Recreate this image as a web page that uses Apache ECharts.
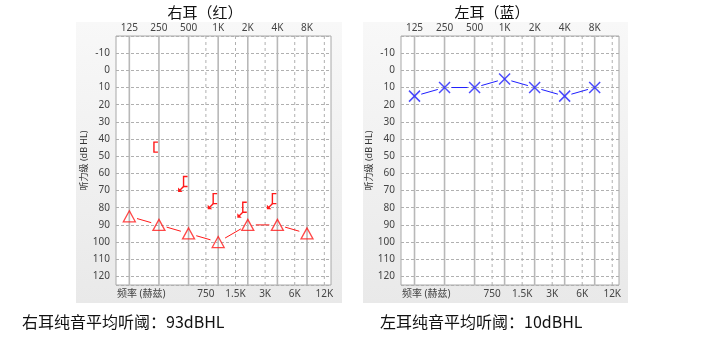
<!DOCTYPE html>
<html><head><meta charset="utf-8">
<script src="https://cdn.jsdelivr.net/npm/echarts@6/dist/echarts.min.js"></script>
<style>html,body{margin:0;padding:0;background:#fff}#c{width:713px;height:342px}</style>
</head><body><div id="c"></div>
<script>
// ---- data ----
const octFreqs = [125, 250, 500, 1000, 2000, 4000, 8000];
const octLabels = ['125', '250', '500', '1K', '2K', '4K', '8K'];
const midFreqs = [750, 1500, 3000, 6000, 12000];
const midLabels = ['750', '1.5K', '3K', '6K', '12K'];
const rightAirFreqs = [125, 250, 500, 1000, 2000, 4000, 8000];
const rightAir = [85, 90, 95, 100, 90, 90, 95];
const rightBoneFreqs = [250, 500, 1000, 2000, 4000];
const rightBone = [45, 65, 75, 80, 75];
const rightBoneNoResp = [0, 1, 1, 1, 1];
const leftAirFreqs = [125, 250, 500, 1000, 2000, 4000, 8000];
const leftAir = [15, 10, 10, 5, 10, 15, 10];
const titles = ['右耳（红）', '左耳（蓝）'];
const footers = ['右耳纯音平均听阈：93dBHL', '左耳纯音平均听阈：10dBHL'];
const yName = '听力级 (dB HL)';
const xName = '频率 (赫兹)';

const FONT = '"Noto Sans", "Noto Sans CJK SC", sans-serif';
const RED = '#ff1a1a', BLUE = '#1f1fff';
const lx = f => Math.log2(f / 125);
const XMIN = -0.45, XMAX = 6.81, YMIN = -20, YMAX = 125;

const chart = echarts.init(document.getElementById('c'));

function gridSeries(gi) {
  const data = [];
  octFreqs.forEach((f, i) => data.push([lx(f), 0, i]));
  midFreqs.forEach((f, i) => data.push([lx(f), 1, i]));
  data.push([XMIN, 2, 0]);
  return {
    type: 'custom', xAxisIndex: gi, yAxisIndex: gi, z: 1, silent: true,
    clip: false,
    encode: { x: 0, y: 1 },
    data: data,
    renderItem: function (params, api) {
      const x = api.value(0), kind = api.value(1), idx = api.value(2);
      const top = api.coord([x, YMIN]), bot = api.coord([x, YMAX]);
      if (kind === 2) {
        return { type: 'text', style: { text: xName, x: top[0] + 1, y: bot[1] + 9, textAlign: 'left', textVerticalAlign: 'middle', font: '10px ' + FONT, fill: '#444' } };
      }
      if (kind === 0) {
        return { type: 'group', children: [
          { type: 'line', shape: { x1: top[0], y1: top[1], x2: bot[0], y2: bot[1] }, style: { stroke: '#b8b8b8', lineWidth: 1.6 } },
          { type: 'text', style: { text: octLabels[idx], x: top[0], y: top[1] - 8, textAlign: 'center', textVerticalAlign: 'middle', font: '10px ' + FONT, fill: '#444' } }
        ] };
      }
      return { type: 'group', children: [
        { type: 'line', shape: { x1: top[0], y1: top[1], x2: bot[0], y2: bot[1] }, style: { stroke: '#b0b0b0', lineWidth: 1, lineDash: [3, 3] } },
        { type: 'text', style: { text: midLabels[idx], x: top[0], y: bot[1] + 9, textAlign: 'center', textVerticalAlign: 'middle', font: '10px ' + FONT, fill: '#444' } }
      ] };
    }
  };
}

function segSeries(gi, freqs, vals, color, gap) {
  const data = [];
  for (let i = 0; i < freqs.length - 1; i++) data.push([lx(freqs[i]), vals[i], lx(freqs[i + 1]), vals[i + 1]]);
  return {
    type: 'custom', xAxisIndex: gi, yAxisIndex: gi, z: 3, silent: true,
    encode: { x: [0, 2], y: [1, 3] },
    data: data,
    renderItem: function (params, api) {
      const p1 = api.coord([api.value(0), api.value(1)]);
      const p2 = api.coord([api.value(2), api.value(3)]);
      const dx = p2[0] - p1[0], dy = p2[1] - p1[1];
      const L = Math.sqrt(dx * dx + dy * dy), ux = dx / L, uy = dy / L;
      return { type: 'line', shape: { x1: p1[0] + ux * gap, y1: p1[1] + uy * gap, x2: p2[0] - ux * gap, y2: p2[1] - uy * gap }, style: { stroke: color, lineWidth: 1 } };
    }
  };
}

function boneSeries(gi) {
  return {
    type: 'custom', xAxisIndex: gi, yAxisIndex: gi, z: 4, silent: true,
    encode: { x: 0, y: 1 },
    data: rightBoneFreqs.map((f, i) => [lx(f), rightBone[i], rightBoneNoResp[i]]),
    renderItem: function (params, api) {
      const p = api.coord([api.value(0), api.value(1)]);
      const nr = api.value(2);
      const bx = p[0] - 5, x2 = p[0] - 1, t = p[1] - 5.5, b = p[1] + 4.5;
      const ch = [{ type: 'polyline', shape: { points: [[x2, t], [bx, t], [bx, b], [x2, b]] }, style: { stroke: RED, lineWidth: 1.4, fill: null } }];
      if (nr) {
        ch.push({ type: 'line', shape: { x1: bx, y1: b, x2: bx - 4, y2: b + 4 }, style: { stroke: RED, lineWidth: 1.4 } });
        ch.push({ type: 'polygon', shape: { points: [[bx - 5.5, b + 5.5], [bx - 5.5, b + 1], [bx - 1, b + 5.5]] }, style: { fill: RED } });
      }
      return { type: 'group', children: ch };
    }
  };
}

const grids = [
  { left: 116, top: 36, width: 215, height: 249 },
  { left: 401, top: 36, width: 218, height: 249 }
];

const xAxes = grids.map((g, i) => ({
  type: 'value', gridIndex: i, min: XMIN, max: XMAX,
  axisLine: { show: false }, axisTick: { show: false }, axisLabel: { show: false }, splitLine: { show: false }
}));
const yAxes = grids.map((g, i) => ({
  type: 'value', gridIndex: i, inverse: true, min: YMIN, max: YMAX, interval: 10,
  axisLine: { show: false }, axisTick: { show: false },
  axisLabel: { formatter: v => (v === YMIN || v === YMAX) ? '' : String(v), fontSize: 10, color: '#444', fontFamily: FONT, margin: 6 },
  splitLine: { show: true, lineStyle: { color: '#b0b0b0', type: [3, 2], width: 1 } },
  name: yName, nameLocation: 'middle', nameRotate: 90, nameGap: 24,
  nameTextStyle: { fontSize: 9, color: '#333', fontFamily: FONT }
}));

const option = {
  backgroundColor: '#fff',
  animation: false,
  grid: grids.map(g => Object.assign({ show: true, backgroundColor: '#fff', borderColor: '#a8a8a8', borderWidth: 1 }, g)),
  xAxis: xAxes,
  yAxis: yAxes,
  graphic: [
    { type: 'rect', z: -100, shape: { x: 76, y: 22, width: 266, height: 281 }, style: { fill: new echarts.graphic.LinearGradient(0, 0, 0, 1, [{ offset: 0, color: '#f8f8f8' }, { offset: 1, color: '#e9e9e9' }]) } },
    { type: 'rect', z: -100, shape: { x: 363, y: 22, width: 265, height: 281 }, style: { fill: new echarts.graphic.LinearGradient(0, 0, 0, 1, [{ offset: 0, color: '#f8f8f8' }, { offset: 1, color: '#e9e9e9' }]) } },
    { type: 'text', x: 205, y: 12, style: { text: titles[0], textAlign: 'center', textVerticalAlign: 'middle', font: '15px "Noto Sans CJK SC", sans-serif', fill: '#111' } },
    { type: 'text', x: 492, y: 12, style: { text: titles[1], textAlign: 'center', textVerticalAlign: 'middle', font: '15px "Noto Sans CJK SC", sans-serif', fill: '#111' } },
    { type: 'text', x: 22, y: 322, style: { text: footers[0], textAlign: 'left', textVerticalAlign: 'middle', font: '16px "Noto Sans CJK SC", sans-serif', fill: '#111' } },
    { type: 'text', x: 380, y: 322, style: { text: footers[1], textAlign: 'left', textVerticalAlign: 'middle', font: '16px "Noto Sans CJK SC", sans-serif', fill: '#111' } }
  ],
  series: [
    gridSeries(0),
    gridSeries(1),
    segSeries(0, rightAirFreqs, rightAir, RED, 8),
    {
      type: 'scatter', xAxisIndex: 0, yAxisIndex: 0, z: 5, silent: true,
      symbol: 'triangle', symbolSize: [12, 11],
      itemStyle: { color: 'rgba(0,0,0,0)', borderColor: RED, borderWidth: 1.3 },
      data: rightAirFreqs.map((f, i) => [lx(f), rightAir[i]])
    },
    boneSeries(0),
    segSeries(1, leftAirFreqs, leftAir, BLUE, 7),
    {
      type: 'scatter', xAxisIndex: 1, yAxisIndex: 1, z: 5, silent: true,
      symbol: 'path://M0,0L10,10M10,0L0,10', symbolSize: 11,
      itemStyle: { color: 'rgba(0,0,0,0)', borderColor: BLUE, borderWidth: 1.5 },
      data: leftAirFreqs.map((f, i) => [lx(f), leftAir[i]])
    }
  ]
};
chart.setOption(option);
</script></body></html>
